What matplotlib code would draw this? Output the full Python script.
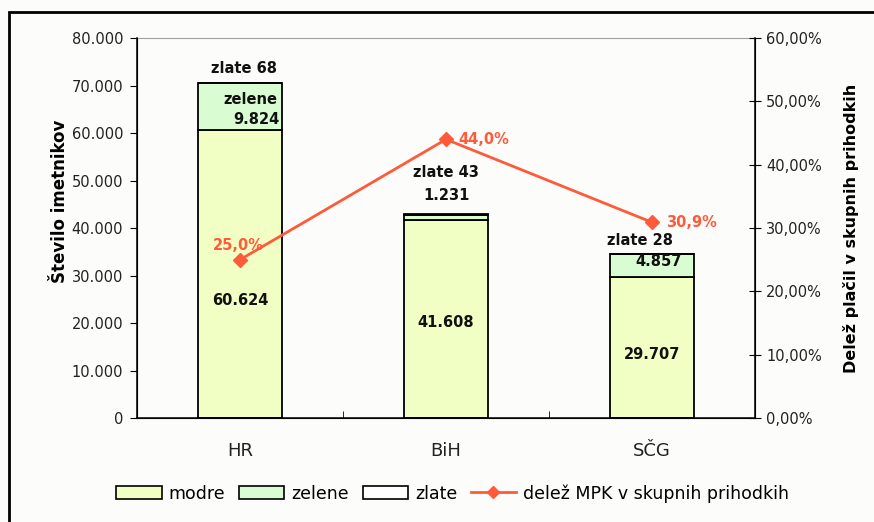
import numpy as np
import matplotlib

matplotlib.use("Agg")
import matplotlib.pyplot as plt
from matplotlib.patches import Rectangle, Patch
from matplotlib.lines import Line2D
from matplotlib.ticker import FuncFormatter

plt.rcParams["font.family"] = ["DejaVu Sans"]

# -- Data ---------------------------------------------------------------------

categories = ["HR", "BiH", "SČG"]
modre = [60624, 41608, 29707]
zelene = [9824, 1231, 4857]
zlate = [68, 43, 28]
delez = [25.0, 44.0, 30.9]

COL_MODRE = "#f2ffc4"
COL_ZELENE = "#d9fcd2"
COL_ZLATE = "#ffffff"
COL_LINE = "#ff5a3a"
BG = "#fcfcfa"
TXT = "#222222"

x = np.arange(len(categories))
width = 0.41

fig = plt.figure(figsize=(8.74, 5.22), dpi=100, facecolor=BG)
ax = fig.add_axes([0.1568, 0.1992, 0.707, 0.728])
ax.set_facecolor(BG)

bot2 = np.array(modre)
bot3 = bot2 + np.array(zelene)
ax.bar(x, modre, width, color=COL_MODRE, edgecolor="black", linewidth=1.3)
ax.bar(x, zelene, width, bottom=bot2, color=COL_ZELENE, edgecolor="black", linewidth=1.3)
ax.bar(x, zlate, width, bottom=bot3, color=COL_ZLATE, edgecolor="black", linewidth=1.3)

ax.set_xlim(-0.5, 2.5)
ax.set_ylim(0, 80000)
ax.set_yticks(np.arange(0, 80001, 10000))
ax.yaxis.set_major_formatter(FuncFormatter(lambda v, p: "0" if v == 0 else f"{int(v):,}".replace(",", ".")))
ax.set_xticks(x)
ax.set_xticklabels(categories, fontsize=13, color=TXT)
ax.set_xticks([0.5, 1.5], minor=True)
ax.tick_params(axis="x", which="major", length=0, pad=17)
ax.tick_params(axis="x", which="minor", direction="in", length=5)
ax.tick_params(axis="y", direction="out", length=5, labelsize=10.5, labelcolor=TXT, pad=5)
ax.set_ylabel("Število imetnikov", fontsize=12, fontweight="bold")
ax.yaxis.set_label_coords(-0.11, 0.57)
ax.spines["top"].set_color("#a0a0a0")
for s in ["left", "bottom", "right"]:
    ax.spines[s].set_linewidth(1.1)

# value labels on bars
lbl = dict(ha="center", va="center", fontsize=10.5, fontweight="bold", color="#111111")
ax.text(x[0], 24800, "60.624", **lbl)
ax.text(x[1], 20200, "41.608", **lbl)
ax.text(x[2], 13300, "29.707", **lbl)
ax.text(x[0] + 0.05, 67000, "zelene", **lbl)
ax.text(x[0] + 0.08, 62800, "9.824", **lbl)
ax.text(x[2] + 0.03, 32900, "4.857", **lbl)
ax.text(x[1], 46900, "1.231", **lbl)
ax.text(x[0] + 0.02, 73500, "zlate 68", **lbl)
ax.text(x[1], 51700, "zlate 43", **lbl)
ax.text(x[2] - 0.06, 37300, "zlate 28", **lbl)

ax2 = ax.twinx()
ax2.set_ylim(0, 60)
ax2.set_yticks(np.arange(0, 61, 10))
ax2.yaxis.set_major_formatter(FuncFormatter(lambda v, p: f"{v:.2f}%".replace(".", ",")))
ax2.tick_params(axis="y", direction="inout", length=8, labelsize=10.5, labelcolor=TXT, pad=4)
ax2.plot(x, delez, color=COL_LINE, linewidth=2, marker="D", markersize=7)
ax2.set_ylabel("Delež plačil v skupnih prihodkih", fontsize=11.5, fontweight="bold", labelpad=15)
ax2.spines["top"].set_visible(False)

pct = dict(fontsize=10.5, fontweight="bold", color=COL_LINE, va="center")
ax2.text(x[0] - 0.01, delez[0] + 2.3, "25,0%", ha="center", **pct)
ax2.text(x[1] + 0.06, delez[1], "44,0%", ha="left", **pct)
ax2.text(x[2] + 0.07, delez[2], "30,9%", ha="left", **pct)

handles = [
    Patch(facecolor=COL_MODRE, edgecolor="black", linewidth=1.2),
    Patch(facecolor=COL_ZELENE, edgecolor="black", linewidth=1.2),
    Patch(facecolor=COL_ZLATE, edgecolor="black", linewidth=1.2),
    Line2D([], [], color=COL_LINE, linewidth=2, marker="D", markersize=6),
]
labels = ["modre", "zelene", "zlate", "delež MPK v skupnih prihodkih"]
fig.legend(handles, labels, loc="center", bbox_to_anchor=(0.518, 0.055), ncol=4,
           frameon=False, fontsize=12.5, handlelength=2.6, handleheight=0.8,
           handletextpad=0.4, columnspacing=0.8)

# outer frame
fig.patches.append(Rectangle((9 / 874, -0.05), 1.2, 1 - 12 / 522 + 0.05,
                             transform=fig.transFigure, fill=False,
                             edgecolor="black", linewidth=2))

plt.savefig("out.png", dpi=100, facecolor=BG)
plt.close()
